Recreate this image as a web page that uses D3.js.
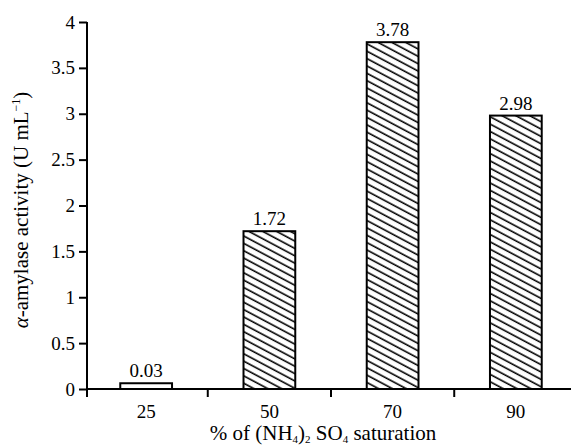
<!DOCTYPE html>
<html>
<head>
<meta charset="utf-8">
<script src="https://cdn.jsdelivr.net/npm/d3@7"></script>
<style>
 body { margin: 0; background: #fff; }
</style>
</head>
<body>
<div id="container"></div>
<script>
const categories = ["25", "50", "70", "90"];
const values = [0.03, 1.72, 3.78, 2.98];
const valueLabels = ["0.03", "1.72", "3.78", "2.98"];
const yTicks = [0, 0.5, 1, 1.5, 2, 2.5, 3, 3.5, 4];
const yTickLabels = ["0", "0.5", "1", "1.5", "2", "2.5", "3", "3.5", "4"];

const width = 571;
const height = 446;
const plotLeft = 87, plotRight = 575, plotTop = 22, plotBottom = 389;
const serif = "'Liberation Serif'";

const svg = d3.select("#container")
  .append("svg")
  .attr("width", width)
  .attr("height", height);

// hatch pattern
const defs = svg.append("defs");
const pat = defs.append("pattern")
  .attr("id", "hatch")
  .attr("patternUnits", "userSpaceOnUse")
  .attr("width", 20)
  .attr("height", 6.5)
  .attr("patternTransform", "rotate(28)");
pat.append("line")
  .attr("x1", 0).attr("x2", 20)
  .attr("y1", 3).attr("y2", 3)
  .attr("stroke", "#000")
  .attr("stroke-width", 1.6);

const x = d3.scaleBand()
  .domain(categories)
  .range([plotLeft, plotRight])
  .paddingInner(0.58)
  .paddingOuter(0.27);

const y = d3.scaleLinear()
  .domain([0, 4])
  .range([plotBottom, plotTop]);

// bars
svg.append("g")
  .selectAll("rect")
  .data(values)
  .enter()
  .append("rect")
  .attr("x", (d, i) => x(categories[i]))
  .attr("y", d => y(d) - (d < 0.1 ? 3 : 0))
  .attr("width", x.bandwidth())
  .attr("height", d => plotBottom - y(d) + (d < 0.1 ? 3 : 0))
  .attr("fill", (d, i) => i === 0 ? "#fff" : "url(#hatch)")
  .attr("stroke", "#000")
  .attr("stroke-width", 2);

// value labels
svg.append("g")
  .selectAll("text")
  .data(values)
  .enter()
  .append("text")
  .attr("x", (d, i) => x(categories[i]) + x.bandwidth() / 2)
  .attr("y", d => y(d) - (d < 0.1 ? 3 : 0) - 6)
  .attr("text-anchor", "middle")
  .style("font-family", serif)
  .style("font-size", "19px")
  .text((d, i) => valueLabels[i]);

// y axis
const yAxis = d3.axisLeft(y)
  .tickValues(yTicks)
  .tickFormat((d, i) => yTickLabels[i])
  .tickSize(8)
  .tickPadding(4);
const gy = svg.append("g")
  .attr("transform", `translate(${plotLeft},0)`)
  .call(yAxis);
gy.select(".domain").attr("stroke-width", 2).attr("d", `M0,${plotTop}V${plotBottom + 8}`);
gy.selectAll(".tick line").attr("stroke-width", 2);
gy.selectAll(".tick text")
  .style("font-family", serif)
  .style("font-size", "19px");

// x axis
svg.append("line")
  .attr("x1", plotLeft).attr("x2", plotRight)
  .attr("y1", plotBottom).attr("y2", plotBottom)
  .attr("stroke", "#000").attr("stroke-width", 2);

const step = x.step();
const boundaries = categories.slice(1).map(c => x(c) - (step - x.bandwidth()) / 2);
svg.append("g")
  .selectAll("line")
  .data(boundaries)
  .enter()
  .append("line")
  .attr("x1", d => d).attr("x2", d => d)
  .attr("y1", plotBottom).attr("y2", plotBottom + 8)
  .attr("stroke", "#000").attr("stroke-width", 2);

svg.append("g")
  .selectAll("text")
  .data(categories)
  .enter()
  .append("text")
  .attr("x", d => x(d) + x.bandwidth() / 2)
  .attr("y", plotBottom + 29)
  .attr("text-anchor", "middle")
  .style("font-family", serif)
  .style("font-size", "19px")
  .text(d => d);

// axis titles
const xt = svg.append("text")
  .attr("x", 323)
  .attr("y", 440)
  .attr("text-anchor", "middle")
  .style("font-family", serif)
  .style("font-size", "21px");
xt.append("tspan").text("% of (NH");
xt.append("tspan").attr("dy", 3).style("font-size", "11px").text("4");
xt.append("tspan").attr("dy", -3).text(")");
xt.append("tspan").attr("dy", 3).style("font-size", "11px").text("2");
xt.append("tspan").attr("dy", -3).text(" SO");
xt.append("tspan").attr("dy", 3).style("font-size", "11px").text("4");
xt.append("tspan").attr("dy", -3).text(" saturation");

const yt = svg.append("text")
  .attr("transform", "translate(28,210) rotate(-90)")
  .attr("text-anchor", "middle")
  .style("font-family", serif)
  .style("font-size", "21px");
yt.append("tspan").style("font-style", "italic").text("α");
yt.append("tspan").text("-amylase activity (U mL");
yt.append("tspan").attr("dy", -8).style("font-size", "12px").text("−1");
yt.append("tspan").attr("dy", 8).text(")");
</script>
</body>
</html>
